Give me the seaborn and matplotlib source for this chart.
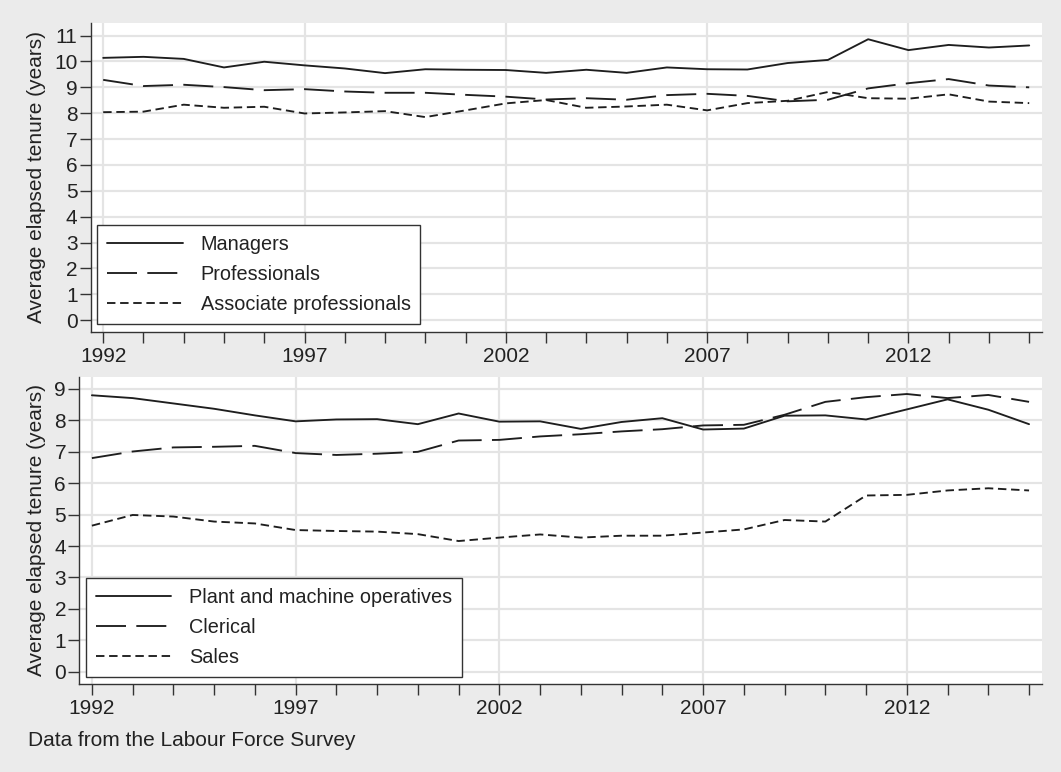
import pandas as pd
import numpy as np
import seaborn as sns
import matplotlib.pyplot as plt
from matplotlib.ticker import MultipleLocator

# values
years = list(range(1992, 2016))

managers = [10.14, 10.18, 10.10, 9.77, 9.99, 9.85, 9.73, 9.55, 9.70, 9.68, 9.67, 9.56,
            9.68, 9.56, 9.77, 9.70, 9.69, 9.94, 10.06, 10.86, 10.44, 10.64, 10.54, 10.62]
professionals = [9.29, 9.05, 9.10, 9.01, 8.89, 8.93, 8.84, 8.79, 8.79, 8.71, 8.64, 8.53,
                 8.58, 8.52, 8.70, 8.75, 8.67, 8.46, 8.52, 8.96, 9.16, 9.32, 9.07, 9.00]
associate = [8.04, 8.06, 8.33, 8.21, 8.25, 7.99, 8.03, 8.08, 7.85, 8.11, 8.38, 8.51,
             8.21, 8.26, 8.33, 8.11, 8.39, 8.48, 8.82, 8.58, 8.56, 8.73, 8.45, 8.39]

plant = [8.80, 8.71, 8.54, 8.37, 8.16, 7.97, 8.03, 8.04, 7.88, 8.22, 7.96, 7.97,
         7.73, 7.95, 8.07, 7.71, 7.74, 8.15, 8.16, 8.03, 8.35, 8.67, 8.34, 7.88]
clerical = [6.80, 7.01, 7.14, 7.16, 7.19, 6.96, 6.90, 6.94, 7.00, 7.36, 7.38, 7.49,
            7.56, 7.65, 7.72, 7.84, 7.86, 8.18, 8.59, 8.74, 8.84, 8.71, 8.81, 8.59]
sales = [4.65, 4.99, 4.94, 4.78, 4.72, 4.51, 4.48, 4.46, 4.38, 4.16, 4.27, 4.37,
         4.27, 4.33, 4.33, 4.43, 4.53, 4.83, 4.78, 5.61, 5.63, 5.77, 5.84, 5.77]

top_groups = ["Managers", "Professionals", "Associate professionals"]
bottom_groups = ["Plant and machine operatives", "Clerical", "Sales"]


def long_df(groups, series):
    frames = [pd.DataFrame({"year": years, "tenure": s, "group": g})
              for g, s in zip(groups, series)]
    return pd.concat(frames, ignore_index=True)


top_df = long_df(top_groups, [managers, professionals, associate])
bottom_df = long_df(bottom_groups, [plant, clerical, sales])

sns.set_theme(style="white")
plt.rcParams['font.family'] = ['Liberation Sans', 'DejaVu Sans']
plt.rcParams['text.color'] = '#222222'
plt.rcParams['xtick.labelsize'] = 15
plt.rcParams['ytick.labelsize'] = 15

bg = '#ebebeb'
ink = '#1e1e1e'
dash_styles = ["", (16, 5.5), (4.5, 2.5)]

fig = plt.figure(figsize=(10.61, 7.72), dpi=100, facecolor=bg)
ax1 = fig.add_axes([0.0855, 0.5703, 0.8963, 0.4003])
ax2 = fig.add_axes([0.0747, 0.114, 0.9071, 0.398])


def draw(ax, df, groups, ymax, ylo, yhi, label_x, leg_xy):
    sns.lineplot(data=df, x="year", y="tenure", style="group", style_order=groups,
                 dashes=dict(zip(groups, dash_styles)), color=ink, linewidth=1.35,
                 ax=ax)
    ax.set_xlim(1991.69, 2015.31)
    ax.set_ylim(ylo, yhi)
    ax.set_xticks(range(1992, 2016, 5))
    ax.xaxis.set_minor_locator(MultipleLocator(1))
    ax.set_yticks(range(0, ymax + 1))
    ax.grid(True, which="major", color="#e4e4e4", linewidth=1.6)
    ax.set_axisbelow(True)
    for s in ["top", "right"]:
        ax.spines[s].set_visible(False)
    for s in ["left", "bottom"]:
        ax.spines[s].set_color("#333333")
        ax.spines[s].set_linewidth(1.0)
    ax.tick_params(which="both", direction="out", bottom=True, left=True,
                   length=8, width=1, color="#333333")
    ax.tick_params(axis="y", pad=1.5)
    ax.tick_params(axis="x", pad=3)
    plt.setp(ax.get_xticklabels() + ax.get_yticklabels(), fontsize=15, color="#222222")
    ax.set_xlabel("")
    ax.set_ylabel("Average elapsed tenure (years)", fontsize=15, color="#222222")
    ax.yaxis.set_label_coords(label_x, 0.5)

    handles, labels = ax.get_legend_handles_labels()
    keep = [(h, l) for h, l in zip(handles, labels) if l in groups]
    ax.legend([h for h, _ in keep], [l for _, l in keep], loc="lower left",
              bbox_to_anchor=leg_xy, borderaxespad=0, frameon=True, fancybox=False,
              edgecolor="#333333", framealpha=1, fontsize=14.3, handlelength=3.8,
              handletextpad=0.9, labelspacing=0.55, borderpad=0.5)
    ax.get_legend().get_frame().set_linewidth(1.0)


draw(ax1, top_df, top_groups, 11, -0.45, 11.5, -0.047, (0.0069, 0.025))
draw(ax2, bottom_df, bottom_groups, 9, -0.39, 9.39, -0.0346, (0.0066, 0.0228))

fig.text(28 / 1061, 1 - 740 / 772, "Data from the Labour Force Survey",
         fontsize=15, va="center", ha="left")

fig.savefig("out.png", dpi=100, facecolor=bg)
